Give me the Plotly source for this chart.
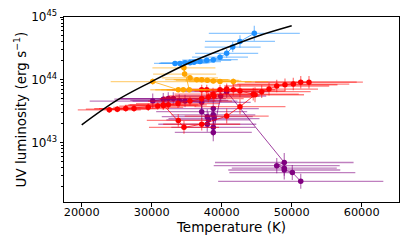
import numpy as np
import plotly.graph_objects as go

# ---- data (temperature in K, log10 UV luminosity in erg/s) ----
blue_T = [33330, 34040, 34760, 35470, 36040, 36900, 37860, 38800, 39760, 40710, 41570, 42610, 44660]
blue_logL = [44.26, 44.26, 44.27, 44.27, 44.28, 44.29, 44.31, 44.32, 44.36, 44.42, 44.52, 44.61, 44.74]
blue_Terr = [3000, 3000, 3500, 2500, 3000, 3000, 3500, 3500, 4000, 4500, 4000, 5000, 6500]
blue_Lerr = [0.03, 0.03, 0.03, 0.03, 0.03, 0.04, 0.04, 0.04, 0.05, 0.07, 0.08, 0.10, 0.12]

orange_T = [30140, 33800, 34510, 35370, 34600, 34700, 35470, 36430, 37140, 37940, 38800, 39760, 41660]
orange_logL = [43.97, 43.84, 43.84, 43.84, 44.19, 44.09, 44.03, 44.00, 44.00, 43.99, 43.98, 43.97, 43.97]
orange_Terr = [6000, 4000, 4000, 4000, 4500, 4500, 4000, 4500, 4000, 4500, 4000, 4500, 5000]
orange_Lerr = [0.05, 0.04, 0.04, 0.04, 0.05, 0.05, 0.04, 0.04, 0.04, 0.04, 0.04, 0.04, 0.05]

redA_T = [37140, 37860, 38760, 39760, 40710, 41660, 42610, 44510, 45710, 46760, 47860, 49040, 50230, 51290, 52470]
redA_logL = [43.84, 43.84, 43.77, 43.84, 43.85, 43.84, 43.82, 43.77, 43.81, 43.85, 43.90, 43.92, 43.93, 43.96, 43.96]
redA_Terr = [5000, 5000, 5500, 5500, 6000, 6000, 6500, 6500, 7000, 7000, 7500, 7500, 8000, 8000, 7700]
redA_Lerr = [0.08, 0.08, 0.10, 0.08, 0.09, 0.09, 0.10, 0.10, 0.10, 0.10, 0.10, 0.10, 0.10, 0.10, 0.10]

redB_T = [23940, 25090, 26290, 27470, 29510, 30860, 31660, 32370, 33760, 35470, 37140, 38090, 38900]
redB_logL = [43.52, 43.53, 43.54, 43.54, 43.56, 43.58, 43.59, 43.60, 43.62, 43.66, 43.70, 43.72, 43.74]
redB_Terr = [4500, 4500, 4500, 5000, 5000, 5500, 5500, 5500, 6000, 6000, 6000, 6500, 6500]
redB_Lerr = [0.05, 0.05, 0.05, 0.05, 0.06, 0.06, 0.06, 0.07, 0.07, 0.07, 0.08, 0.08, 0.08]

redC_T = [31660, 33800, 34610, 37140, 40710, 42610, 44760]
redC_logL = [43.60, 43.35, 43.24, 43.29, 43.42, 43.57, 43.76]
redC_Terr = [5000, 4500, 5000, 5500, 6000, 6500, 7000]
redC_Lerr = [0.08, 0.10, 0.10, 0.10, 0.12, 0.12, 0.12]

purple_T = [30140, 31660, 32370, 33090, 33940, 34760, 37140, 37140, 37940, 38090, 37940,
            38800, 38800, 38900, 38800, 38800, 39860, 40710,
            48940, 47860, 48940, 48940, 50090, 51290]
purple_logL = [43.66, 43.69, 43.70, 43.70, 43.67, 43.66, 43.64, 43.49, 43.41, 43.36, 43.29,
               43.54, 43.44, 43.38, 43.24, 43.16, 43.74, 43.81,
               42.68, 42.63, 42.59, 42.56, 42.52, 42.38]
purple_Terr = [9000, 7000, 7000, 7500, 7000, 7500, 7000, 6500, 6500, 6000, 7000,
               6500, 6000, 6500, 6000, 5500, 6500, 6000,
               9900, 9000, 7500, 8000, 9000, 11800]
purple_Lerr = [0.12, 0.10, 0.10, 0.10, 0.10, 0.10, 0.10, 0.12, 0.12, 0.12, 0.12,
               0.12, 0.12, 0.12, 0.14, 0.14, 0.10, 0.10,
               0.15, 0.12, 0.12, 0.15, 0.12, 0.12]

bb_T = [20000, 25000, 30000, 35000, 40000, 45000, 50000]
bb_logL = [43.28, 43.67, 43.97, 44.25, 44.48, 44.69, 44.86]

x_ticks = [20000, 30000, 40000, 50000, 60000]
y_ticks = [43, 44, 45]

fig = go.Figure()


def add_series(T, logL, Terr, Lerr, rgb):
    L = 10 ** np.array(logL)
    le = np.array(Lerr)
    up = 10 ** (np.array(logL) + le) - L
    dn = L - 10 ** (np.array(logL) - le)
    col = "rgb(%d,%d,%d)" % rgb
    light = "rgba(%d,%d,%d,0.5)" % rgb
    fig.add_trace(go.Scatter(
        x=T, y=L, mode="lines+markers",
        line=dict(color="rgba(%d,%d,%d,0.75)" % rgb, width=1),
        marker=dict(color=col, size=5.5, line=dict(width=0)),
        error_x=dict(type="data", array=Terr, arrayminus=Terr, color=light, thickness=1.3, width=0),
        error_y=dict(type="data", array=up.tolist(), arrayminus=dn.tolist(), color=light, thickness=1.3, width=0),
        showlegend=False, hoverinfo="skip"))


add_series(purple_T, purple_logL, purple_Terr, purple_Lerr, (128, 0, 128))
add_series(redC_T, redC_logL, redC_Terr, redC_Lerr, (255, 0, 0))
add_series(redB_T, redB_logL, redB_Terr, redB_Lerr, (255, 0, 0))
add_series(redA_T, redA_logL, redA_Terr, redA_Lerr, (255, 0, 0))
add_series(orange_T, orange_logL, orange_Terr, orange_Lerr, (255, 165, 0))
add_series(blue_T, blue_logL, blue_Terr, blue_Lerr, (30, 144, 255))

fig.add_trace(go.Scatter(x=bb_T, y=(10 ** np.array(bb_logL)).tolist(), mode="lines",
                         line=dict(color="black", width=1.5, shape="spline"),
                         showlegend=False, hoverinfo="skip"))

minor_vals = [m * 10.0 ** e for e in (42, 43, 44) for m in range(2, 10)]
ymin, ymax = 42.05, 45.0

# the page body has an 8px default margin, so the figure is 8px smaller
fig.update_layout(
    width=407, height=241, autosize=False,
    margin=dict(l=56, r=16, t=9, b=47),
    paper_bgcolor="white", plot_bgcolor="white",
    font=dict(family="DejaVu Sans", size=11.3, color="black"),
    xaxis=dict(range=[17470, 65330], tickvals=x_ticks, ticktext=[str(v) for v in x_ticks],
               ticks="outside", ticklen=3.5, tickwidth=0.8, tickcolor="black",
               showline=True, linecolor="black", linewidth=1, mirror=True,
               showgrid=False, zeroline=False, automargin=False,
               ticklabelstandoff=-4,
               title=dict(text="Temperature (K)", font=dict(size=13.5), standoff=3)),
    yaxis=dict(type="log", range=[ymin, ymax],
               tickvals=[10.0 ** v for v in y_ticks],
               ticktext=["10<sup>%d</sup>" % v for v in y_ticks],
               ticks="outside", ticklen=3.5, tickwidth=0.8, tickcolor="black",
               showline=True, linecolor="black", linewidth=1, mirror=True,
               showgrid=False, zeroline=False, automargin=False,
               tickfont=dict(size=12),
               title=dict(text="UV luminosity (erg s<sup>\u22121</sup>)", font=dict(size=13.5), standoff=1)),
    yaxis2=dict(type="log", range=[ymin, ymax], overlaying="y", side="left", anchor="x",
                tickvals=minor_vals, ticks="outside", ticklen=2, tickwidth=0.6, tickcolor="black",
                showticklabels=False, showgrid=False, zeroline=False, showline=False,
                automargin=False),
)
fig.add_trace(go.Scatter(x=[None], y=[None], yaxis="y2", showlegend=False, hoverinfo="skip"))

fig.write_html("out.html")
